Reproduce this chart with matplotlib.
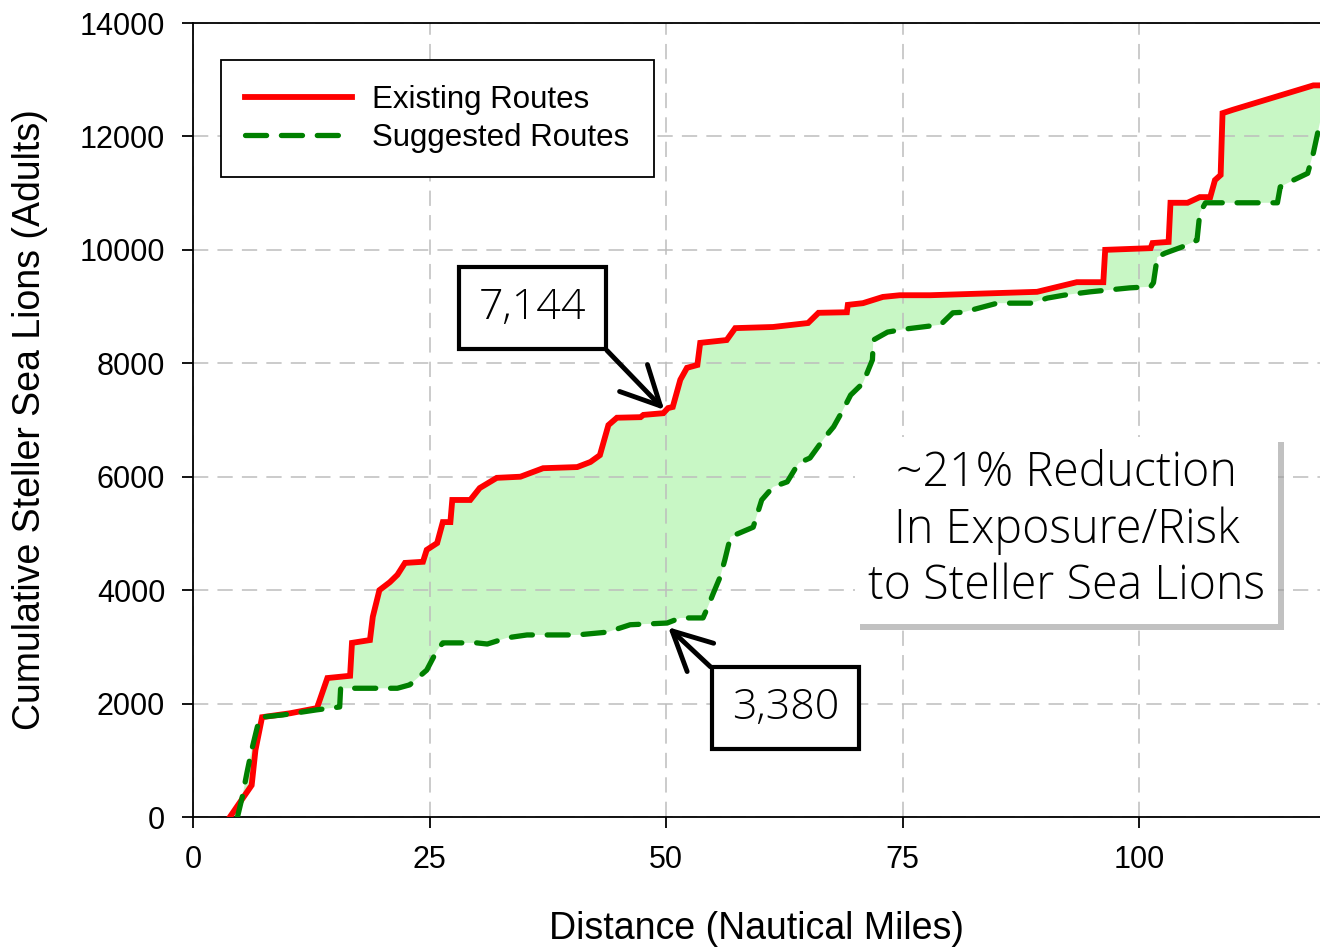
import matplotlib
matplotlib.use("Agg")
import matplotlib.pyplot as plt
import matplotlib.patheffects as pe
from matplotlib import font_manager
from matplotlib.lines import Line2D
import numpy as np

# Existing routes (red) - cumulative sea lions vs distance
existing_x = [3.9, 5.5, 6.2, 6.6, 7.3, 10.3, 13.1, 14.2, 16.6, 16.8, 18.7, 19.0, 19.7, 20.8,
              21.6, 22.4, 24.3, 24.7, 25.8, 26.4, 27.2, 27.4, 29.3, 30.3, 32.1, 34.6, 37.0,
              40.6, 42.0, 43.0, 43.9, 44.8, 47.3, 47.6, 49.7, 50.2, 50.7, 51.5, 52.2, 53.3,
              53.6, 56.4, 57.3, 61.3, 65.0, 66.1, 69.1, 69.2, 70.8, 72.9, 74.7, 77.9, 89.2,
              93.4, 96.2, 96.4, 101.2, 101.4, 103.1, 103.3, 105.1, 106.4, 107.5, 108.0,
              108.6, 108.8, 109.9, 118.4, 120.0]
existing_y = [0, 390, 560, 1180, 1760, 1830, 1920, 2450, 2490, 3070, 3120, 3530, 4000, 4140,
              4270, 4480, 4500, 4710, 4830, 5200, 5200, 5590, 5590, 5800, 5980, 6000, 6150,
              6170, 6260, 6380, 6910, 7040, 7050, 7090, 7120, 7210, 7230, 7710, 7920, 7970,
              8360, 8410, 8620, 8640, 8710, 8890, 8900, 9030, 9060, 9170, 9200, 9200, 9260,
              9430, 9430, 10000, 10030, 10120, 10140, 10830, 10830, 10930, 10930, 11230,
              11320, 12410, 12470, 12900, 12900]

# Suggested routes (green dashed)
suggested_x = [4.7, 5.2, 5.7, 6.2, 6.8, 7.1, 9.5, 13.1, 15.5, 15.6, 21.6, 22.9, 24.7, 25.8,
               26.4, 30.0, 31.1, 33.2, 35.3, 40.6, 43.8, 46.2, 50.1, 51.5, 53.9, 54.4, 55.0,
               55.7, 56.2, 56.8, 59.2, 60.1, 61.3, 62.8, 64.0, 65.2, 66.8, 67.7, 68.7, 69.5,
               70.8, 71.8, 71.9, 73.4, 75.1, 79.0, 80.3, 81.4, 85.0, 88.5, 90.3, 92.0, 94.8,
               99.0, 101.2, 101.5, 101.9, 102.7, 104.5, 106.1, 106.4, 107.0, 114.6, 114.9,
               116.3, 117.8, 118.4, 119.1, 120.0]
suggested_y = [0, 350, 780, 1180, 1590, 1760, 1800, 1890, 1940, 2270, 2270, 2330, 2590, 2940,
               3070, 3070, 3050, 3160, 3210, 3210, 3260, 3390, 3420, 3510, 3510, 3700, 3950,
               4230, 4530, 4940, 5110, 5590, 5820, 5910, 6240, 6330, 6700, 6880, 7180, 7440,
               7650, 8060, 8410, 8550, 8600, 8680, 8890, 8900, 9060, 9060, 9150, 9200, 9260,
               9330, 9350, 9420, 9870, 9940, 10050, 10170, 10650, 10830, 10830, 11110,
               11230, 11350, 11710, 12250, 12700]

x_ticks = [0, 25, 50, 75, 100]
y_ticks = [0, 2000, 4000, 6000, 8000, 10000, 12000, 14000]

callout_x = 50
callout_existing = 7144
callout_suggested = 3380
summary_text = "~21% Reduction\nIn Exposure/Risk\nto Steller Sea Lions"


def pick_light_font():
    # the callouts use a thin sans; take a light cut if one is installed
    for name in ["Open Sans", "Lato", "Roboto", "Inter", "Noto Sans"]:
        for f in font_manager.fontManager.ttflist:
            if f.name == name and f.style == "normal" and f.weight in (200, 300, "light", "extra-light"):
                return name, f.weight
    return "Open Sans", "normal"


plt.rcParams["font.family"] = ["Liberation Sans", "DejaVu Sans"]
light_name, light_weight = pick_light_font()
LIGHT = [light_name, "DejaVu Sans"]

fig = plt.figure(figsize=(13.2, 9.47), dpi=100)
ax = fig.add_axes([193 / 1320, 130 / 947, 1127 / 1320, 794 / 947])

# shaded gap between the two curves
poly_x = np.concatenate([existing_x, suggested_x[::-1]])
poly_y = np.concatenate([existing_y, suggested_y[::-1]])
ax.fill(poly_x, poly_y, color="#c8f7c5", lw=0, zorder=0.3)

ax.plot(existing_x, existing_y, color="#ff0000", lw=4.2, solid_joinstyle="miter", zorder=3)
ax.plot(suggested_x, suggested_y, color="#008000", lw=3.8, linestyle=(0, (4, 2.8)),
        dash_capstyle="round", zorder=3.1)

ax.set_xlim(0, 119.1)
ax.set_ylim(0, 14000)
ax.set_xticks(x_ticks)
ax.set_yticks(y_ticks)
ax.grid(True, color="#bdbdbd", lw=1.1, linestyle=(0, (10, 6)))
ax.set_axisbelow(True)

for s in ["left", "bottom", "top"]:
    ax.spines[s].set_linewidth(1.3)
ax.spines["right"].set_visible(False)
ax.tick_params(axis="both", direction="out", length=8, width=1.3, labelsize=22)
ax.tick_params(axis="y", pad=12)
ax.tick_params(axis="x", pad=12)

ax.set_xlabel("Distance (Nautical Miles)", fontsize=27)
ax.set_ylabel("Cumulative Steller Sea Lions (Adults)", fontsize=27)
ax.xaxis.set_label_coords(0.5, -0.119)
ax.yaxis.set_label_coords(-0.129, 0.5)

handles = [
    Line2D([], [], color="#ff0000", lw=4.2),
    Line2D([], [], color="#008000", lw=3.8, linestyle=(0, (4, 2.8)), dash_capstyle="round"),
]
leg = ax.legend(handles, ["Existing Routes", "Suggested Routes"], loc="upper left",
                bbox_to_anchor=(0.0248, 0.953), borderaxespad=0, fontsize=22.5,
                handlelength=3.4, handletextpad=0.65, labelspacing=0.25, borderpad=0.78,
                fancybox=False, framealpha=1, edgecolor="black")
leg.get_frame().set_linewidth(1.3)

arrow = dict(arrowstyle="->,head_length=0.9,head_width=0.45", lw=3.5, color="black",
             shrinkA=0, shrinkB=2)
box = dict(boxstyle="square,pad=0.46", fc="white", ec="black", lw=3)
ax.annotate(f"{callout_existing:,}", xy=(callout_x, callout_existing), xytext=(35.9, 8975),
            ha="center", va="center", fontsize=31, family=LIGHT, fontweight=light_weight,
            bbox=box, arrowprops=dict(arrow, relpos=(1, 0)), zorder=5)
ax.annotate(f"{callout_suggested:,}", xy=(callout_x, callout_suggested), xytext=(62.6, 1922),
            ha="center", va="center", fontsize=31, family=LIGHT, fontweight=light_weight,
            bbox=box, arrowprops=dict(arrow, relpos=(0, 1)), zorder=5)

txt = ax.text(92.3, 5050, summary_text, ha="center", va="center", multialignment="center",
              fontsize=33.5, family=LIGHT, fontweight=light_weight, linespacing=1.22, zorder=5,
              bbox=dict(boxstyle="square,pad=0.28", fc="white", ec="none"))
txt.get_bbox_patch().set_path_effects([
    pe.withSimplePatchShadow(offset=(4, -4), shadow_rgbFace="0.6", alpha=0.6),
    pe.Normal(),
])

fig.savefig("out.png", dpi=100)
